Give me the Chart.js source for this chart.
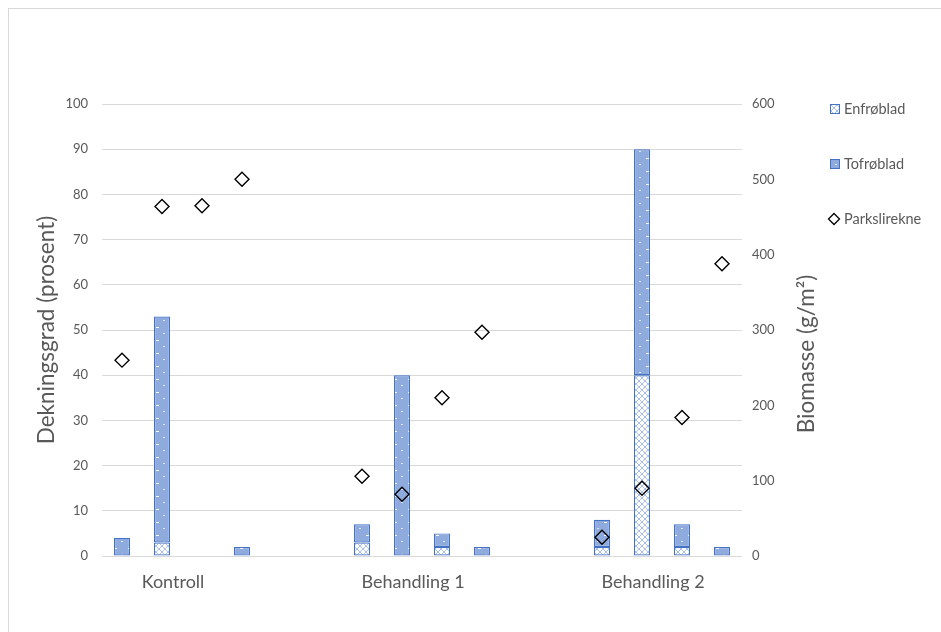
<!DOCTYPE html>
<html>
<head>
<meta charset="utf-8">
<script src="https://cdn.jsdelivr.net/npm/chart.js@4/dist/chart.umd.min.js"></script>
<style>
  html, body { margin: 0; padding: 0; background: #ffffff; }
  #wrap { width: 941px; height: 632px; }
</style>
</head>
<body>
<div id="wrap"><canvas id="c" width="941" height="632"></canvas></div>
<script>
// Slots along the x axis: four plots per treatment, two empty spacer slots between treatments
const slots = ['K1','K2','K3','K4','', '', 'B1-1','B1-2','B1-3','B1-4','', '', 'B2-1','B2-2','B2-3','B2-4'];
const groupLabels = ['Kontroll', 'Behandling 1', 'Behandling 2'];
const groupLabelSlots = [1, 7, 13];

// Cover (%) – Enfrøblad (bottom of stack) and Tofrøblad (top of stack)
const enfroblad = [null, 3, null, null, null, null, 3, null, 2, null, null, null, 2, 40, 2, null];
const tofroblad = [4, 50, null, 2, null, null, 4, 40, 3, 2, null, null, 6, 50, 5, 2];

// Biomass of Parkslirekne (g/m²)
const parkslirekne = [260, 464, 465, 500, null, null, 106, 82, 210, 297, null, null, 25, 90, 184, 388];

// Axis ranges
const coverTicks = { min: 0, max: 100, step: 10 };
const biomassTicks = { min: 0, max: 600, step: 100 };

const TEXT = '#595959';
const GRID = '#d9d9d9';
const EDGE = '#4472C4';
const FONT = 'Lato, "Liberation Sans", sans-serif';

// Fill patterns
function makeDotPattern() {
  const t = document.createElement('canvas');
  t.width = 14; t.height = 13;
  const g = t.getContext('2d');
  g.fillStyle = '#8FAADC';
  g.fillRect(0, 0, 14, 13);
  g.fillStyle = '#ffffff';
  g.fillRect(2, 2, 3, 1);
  g.fillStyle = '#dde6f6';
  g.fillRect(9, 8, 2, 1);
  return g.createPattern(t, 'repeat');
}
function makeHatchPattern() {
  const t = document.createElement('canvas');
  t.width = 6; t.height = 6;
  const g = t.getContext('2d');
  g.fillStyle = '#ffffff';
  g.fillRect(0, 0, 6, 6);
  g.strokeStyle = '#a9bee6';
  g.lineWidth = 1;
  g.beginPath();
  g.moveTo(0, 0); g.lineTo(6, 6);
  g.moveTo(6, 0); g.lineTo(0, 6);
  g.stroke();
  return g.createPattern(t, 'repeat');
}
const dotFill = makeDotPattern();
const hatchFill = makeHatchPattern();

// Frame, axis titles and legend drawn on the canvas
const decorations = {
  id: 'decorations',
  beforeDraw(chart) {
    const ctx = chart.ctx;
    ctx.save();
    ctx.strokeStyle = GRID;
    ctx.lineWidth = 1;
    ctx.strokeRect(8.5, 8.5, 960, 660);
    ctx.restore();
  },
  afterDraw(chart) {
    const ctx = chart.ctx;
    const area = chart.chartArea;
    ctx.save();
    ctx.fillStyle = TEXT;
    ctx.textAlign = 'center';
    ctx.textBaseline = 'middle';
    ctx.font = '22.5px ' + FONT;
    ctx.save();
    ctx.translate(47, (area.top + area.bottom) / 2);
    ctx.rotate(-Math.PI / 2);
    ctx.fillText('Dekningsgrad (prosent)', 0, 0);
    ctx.restore();
    ctx.save();
    ctx.translate(807, 354);
    ctx.rotate(-Math.PI / 2);
    ctx.fillText('Biomasse (g/m²)', 0, 0);
    ctx.restore();

    // legend
    ctx.font = '14.5px ' + FONT;
    ctx.textAlign = 'left';
    const items = [
      { label: 'Enfrøblad', y: 109, fill: hatchFill },
      { label: 'Tofrøblad', y: 164, fill: dotFill },
      { label: 'Parkslirekne', y: 219, diamond: true }
    ];
    items.forEach(it => {
      if (it.diamond) {
        ctx.beginPath();
        ctx.moveTo(834, it.y - 5.5);
        ctx.lineTo(839.5, it.y);
        ctx.lineTo(834, it.y + 5.5);
        ctx.lineTo(828.5, it.y);
        ctx.closePath();
        ctx.fillStyle = '#ffffff';
        ctx.fill();
        ctx.strokeStyle = '#000000';
        ctx.lineWidth = 1.3;
        ctx.stroke();
      } else {
        ctx.fillStyle = it.fill;
        ctx.fillRect(830, it.y - 5, 9, 9);
        ctx.strokeStyle = EDGE;
        ctx.lineWidth = 1;
        ctx.strokeRect(830.5, it.y - 4.5, 9, 9);
      }
      ctx.fillStyle = TEXT;
      ctx.fillText(it.label, 844, it.y);
    });
    ctx.restore();
  }
};

new Chart(document.getElementById('c'), {
  type: 'bar',
  data: {
    labels: slots,
    datasets: [
      {
        label: 'Parkslirekne',
        type: 'line',
        data: parkslirekne,
        yAxisID: 'y1',
        showLine: false,
        pointStyle: 'rectRot',
        pointRadius: 7,
        pointBackgroundColor: 'rgba(255,255,255,0)',
        pointBorderColor: '#000000',
        pointBorderWidth: 1.4,
        order: 0
      },
      {
        label: 'Enfrøblad',
        data: enfroblad,
        backgroundColor: hatchFill,
        borderColor: EDGE,
        borderWidth: 1.2,
        borderSkipped: false,
        yAxisID: 'y',
        order: 1
      },
      {
        label: 'Tofrøblad',
        data: tofroblad,
        backgroundColor: dotFill,
        borderColor: EDGE,
        borderWidth: 1.2,
        borderSkipped: false,
        yAxisID: 'y',
        order: 1
      }
    ]
  },
  options: {
    responsive: false,
    animation: false,
    devicePixelRatio: 1,
    layout: { padding: { top: 104, left: 0, right: 99, bottom: 0 } },
    datasets: { bar: { categoryPercentage: 1, barPercentage: 0.4 } },
    plugins: { legend: { display: false }, tooltip: { enabled: false } },
    scales: {
      x: {
        stacked: true,
        grid: { display: false, drawTicks: false },
        border: { display: false },
        afterFit: s => { s.height = 76; },
        ticks: {
          autoSkip: false,
          maxRotation: 0,
          labelOffset: 11,
          padding: 15,
          color: TEXT,
          font: { family: FONT, size: 18 },
          callback: (v, i) => {
            const k = groupLabelSlots.indexOf(i);
            return k >= 0 ? groupLabels[k] : '';
          }
        }
      },
      y: {
        position: 'left',
        stacked: true,
        min: coverTicks.min,
        max: coverTicks.max,
        afterFit: s => { s.width = 102; },
        grid: { color: GRID, drawTicks: false },
        border: { display: false },
        ticks: { stepSize: coverTicks.step, padding: 14, color: TEXT, font: { family: FONT, size: 13 } }
      },
      y1: {
        position: 'right',
        min: biomassTicks.min,
        max: biomassTicks.max,
        afterFit: s => { s.width = 100; },
        grid: { display: false, drawTicks: false },
        border: { display: false },
        ticks: { stepSize: biomassTicks.step, padding: 10, color: TEXT, font: { family: FONT, size: 13 } }
      }
    }
  },
  plugins: [decorations]
});
</script>
</body>
</html>
